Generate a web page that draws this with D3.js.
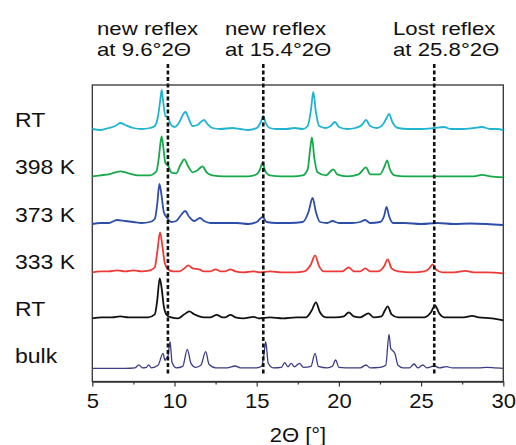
<!DOCTYPE html>
<html>
<head>
<meta charset="utf-8">
<script src="https://cdn.jsdelivr.net/npm/d3@7"></script>
<style>
    body { margin: 0; background: #fff; }
    text { font-family: "Liberation Sans", Arial, sans-serif; fill: #111; }
</style>
</head>
<body>
<div id="chart"></div>
<script>
// series names (top to bottom) and trace colours
const labels = ["RT", "398 K", "373 K", "333 K", "RT", "bulk"];
const colors = ["#1fb4d0", "#16a94a", "#2d4ea8", "#ee3a36", "#111111", "#3c3c86"];
// vertical stacking offset of each trace (intensity units)
const offsets = [251.5, 204.2, 157.5, 109.2, 63.2, 13.2];

// patterns as [2theta, intensity]
const rtTop = [[5.0,1],[5.5,0],[6.0,2],[6.4,4],[6.7,7],[7.0,5],[7.5,2],[8.0,1],[8.5,2],[8.8,4],[9.0,14],[9.15,32],[9.22,40],[9.3,30],[9.45,14],[9.6,13],[9.75,6],[10.0,3],[10.3,8],[10.5,15],[10.68,18],[10.85,12],[11.1,4],[11.4,5],[11.6,8],[11.8,10],[12.0,6],[12.3,2],[12.8,1],[13.5,2],[14.0,1],[14.5,0],[15.0,2],[15.25,8],[15.4,14],[15.55,7],[15.8,2],[16.2,1],[16.8,1],[17.3,2],[17.8,1],[18.1,4],[18.3,20],[18.44,38],[18.6,18],[18.8,4],[19.2,2],[19.5,4],[19.76,8],[20.0,3],[20.5,1],[21.0,2],[21.4,5],[21.65,10],[21.9,4],[22.3,2],[22.7,6],[22.9,12],[23.05,16],[23.25,8],[23.6,2],[24.2,1],[25.0,1],[25.8,2],[26.4,3],[26.8,1],[27.5,1],[28.2,2],[28.7,3],[29.2,1],[29.6,1],[30.0,0]];
const k398 = [[5.0,1],[5.5,2],[6.0,3],[6.7,6],[7.2,4],[7.8,2],[8.5,2],[8.9,6],[9.05,20],[9.15,35],[9.22,41],[9.32,30],[9.45,14],[9.6,12],[9.8,5],[10.1,4],[10.35,12],[10.6,18],[10.8,12],[11.1,5],[11.4,7],[11.7,11],[11.95,5],[12.3,2],[13.0,1],[13.8,1],[14.5,1],[15.0,3],[15.2,8],[15.36,15],[15.5,7],[15.8,2],[16.5,1],[17.2,1],[17.8,2],[18.1,8],[18.25,28],[18.36,40],[18.5,20],[18.7,5],[19.2,2],[19.66,8],[19.9,3],[20.5,1],[21.2,3],[21.65,10],[21.9,3],[22.5,3],[22.8,12],[22.93,17],[23.1,8],[23.4,2],[24.0,1],[25.0,1],[25.8,1],[26.5,1],[27.5,1],[28.2,1],[28.7,2.5],[29.2,1],[30.0,0]];
const k373 = [[5.0,0],[5.5,1],[6.0,1],[6.5,4],[7.0,3],[7.5,2],[8.0,1],[8.5,2],[8.8,5],[8.95,20],[9.08,40],[9.2,30],[9.35,12],[9.55,6],[9.8,2],[10.1,3],[10.4,9],[10.65,13],[10.9,7],[11.2,3],[11.55,6],[11.8,3],[12.2,1],[13.0,1],[13.8,1],[14.5,0],[15.0,2],[15.36,7],[15.6,2],[16.2,1],[17.0,1],[17.8,2],[18.15,12],[18.4,26],[18.6,12],[18.85,2],[19.3,1],[19.6,3],[20.0,1],[20.8,1],[21.3,2],[21.6,4],[21.9,1],[22.5,2],[22.75,8],[22.9,17],[23.05,8],[23.3,1],[24.0,1],[25.0,0],[26.0,1],[27.0,0],[28.0,0.5],[29.0,0],[30.0,-1]];
const k333 = [[5.0,0],[5.5,1],[6.0,1],[6.5,2],[7.0,1],[7.5,2],[8.0,1],[8.5,2],[8.8,5],[8.95,20],[9.12,40],[9.25,28],[9.4,10],[9.6,3],[9.9,1],[10.3,1],[10.6,4],[10.84,7],[11.1,4],[11.5,3],[11.8,1],[12.2,1],[12.5,3],[12.8,1],[13.1,1],[13.4,3],[13.7,1],[14.2,0],[14.8,1],[15.2,0],[15.8,1],[16.5,0],[17.3,0],[17.9,1],[18.3,8],[18.55,17],[18.8,6],[19.1,1],[19.6,1],[20.2,1],[20.6,5],[20.9,1],[21.3,1],[21.6,4],[21.9,1],[22.4,1],[22.75,6],[22.97,13],[23.2,4],[23.6,1],[24.5,0],[25.2,1],[25.5,4],[25.7,8],[25.9,3],[26.3,0],[27.0,0],[27.7,1.5],[28.2,0],[29.0,0],[30.0,-1]];
const rtLow = [[5.0,0],[5.6,1],[6.2,1],[6.7,2],[7.2,1],[7.8,1],[8.4,1],[8.8,4],[8.95,18],[9.1,40],[9.22,30],[9.35,12],[9.55,3],[9.8,1],[10.2,0],[10.6,4],[10.9,7],[11.2,4],[11.5,2],[11.8,1],[12.2,1],[12.57,3.5],[12.9,1],[13.1,1],[13.4,3.5],[13.7,1],[14.2,0],[14.8,1.5],[15.1,0],[15.8,1],[16.6,0],[17.4,1],[18.0,1],[18.35,8],[18.6,16],[18.85,6],[19.2,1],[19.8,1],[20.3,2],[20.6,6],[20.9,2],[21.3,1],[21.8,5],[22.1,1],[22.6,2],[22.8,8],[22.97,12],[23.2,4],[23.6,1],[24.5,1],[25.2,1],[25.6,6],[25.85,13],[26.1,5],[26.4,1],[27.0,1],[27.6,1],[28.1,2.5],[28.5,1],[29.3,0],[30.0,-2]];
const bulk = [[5.0,0],[6.0,0],[7.0,0],[7.6,0.5],[7.84,3.5],[8.05,0.5],[8.3,1],[8.42,3.5],[8.6,0.5],[9.0,3],[9.3,15],[9.42,8],[9.5,10],[9.6,12],[9.73,26.6],[9.85,6],[10.1,0.5],[10.5,2],[10.78,19],[11.0,5],[11.3,1],[11.6,3],[11.9,16.6],[12.1,4],[12.5,0.5],[13.2,0.5],[13.7,2.3],[14.0,0.5],[15.0,0.5],[15.3,2],[15.45,15],[15.55,26.6],[15.7,5],[16.0,0.5],[16.5,1],[16.7,5.6],[16.9,1.5],[17.1,5],[17.3,1.5],[17.6,5],[17.85,1],[18.3,2],[18.55,15],[18.75,2],[19.3,0.5],[19.6,2],[19.8,8.3],[20.0,1],[20.8,0.5],[21.3,0.5],[21.65,3.3],[21.9,0.5],[22.5,1],[22.85,3],[23.05,34],[23.15,20],[23.25,18],[23.4,15],[23.6,3],[23.9,0.5],[24.3,0.5],[24.57,4.3],[24.8,0.5],[25.1,3.3],[25.35,0.5],[25.8,2.3],[26.1,0.5],[26.55,1.6],[26.9,0.5],[27.5,0.5],[28.5,0.5],[29.0,1],[29.5,0.5],[30.0,0]];
const patterns = [rtTop, k398, k373, k333, rtLow, bulk];

// marked reflexes and their notes
const reflexes = [9.6, 15.4, 25.8];
const notes = [["new reflex", "at 9.6°2Θ"], ["new reflex", "at 15.4°2Θ"], ["Lost reflex", "at 25.8°2Θ"]];
const majorTicks = [5, 10, 15, 20, 25, 30];
const minorTicks = [7.5, 12.5, 17.5, 22.5, 27.5];

const width = 516, height = 445;
const plotLeft = 92.3, plotRight = 503.3, plotTop = 85, plotBottom = 381.5;

const svg = d3.select("#chart").append("svg")
    .attr("width", width)
    .attr("height", height);

const x = d3.scaleLinear().domain([5, 30]).range([plotLeft, plotRight]);
const y = d3.scaleLinear().domain([0, plotBottom - plotTop]).range([plotBottom, plotTop]);

// frame
svg.append("rect")
    .attr("x", plotLeft).attr("y", plotTop)
    .attr("width", plotRight - plotLeft).attr("height", plotBottom - plotTop)
    .attr("fill", "none")
    .attr("stroke", "#333")
    .attr("stroke-width", 1.3);

// traces
patterns.forEach((pts, i) => {
    const line = d3.line()
        .x(d => x(d[0]))
        .y(d => y(d[1] + offsets[i]))
        .curve(d3.curveMonotoneX);
    svg.append("path")
        .datum(pts)
        .attr("d", line)
        .attr("fill", "none")
        .attr("stroke", colors[i])
        .attr("stroke-width", i === 5 ? 1.3 : 1.8)
        .attr("stroke-linejoin", "round");
});

// dashed markers
svg.selectAll(".reflex")
    .data(reflexes)
    .enter()
    .append("line")
    .attr("class", "reflex")
    .attr("x1", d => x(d)).attr("x2", d => x(d))
    .attr("y1", 64).attr("y2", 374)
    .attr("stroke", "#111")
    .attr("stroke-width", 2.6)
    .attr("stroke-dasharray", "4 2.5");

// notes above (two lines each)
const noteX = [97, 225, 393];
notes.forEach((lines, i) => {
    lines.forEach((t, j) => {
        svg.append("text")
            .attr("transform", `translate(${noteX[i]},${34.5 + j * 21}) scale(1.22,1)`)
            .attr("font-size", 18.2)
            .text(t);
    });
});

// series labels
const labelY = [127.3, 174, 221.5, 269, 316, 363.3];
svg.selectAll(".lbl")
    .data(labels)
    .enter()
    .append("text")
    .attr("class", "lbl")
    .attr("transform", (d, i) => `translate(15,${labelY[i]}) scale(1.15,1)`)
    .attr("font-size", 20)
    .text(d => d);

// axis
const axis = svg.append("g").attr("transform", `translate(0,${plotBottom})`);
axis.call(d3.axisBottom(x).tickValues(majorTicks).tickSize(5).tickSizeOuter(0).tickPadding(7));
axis.select(".domain").attr("stroke", "#333").attr("stroke-width", 1.3);
axis.selectAll(".tick line").attr("stroke", "#333").attr("stroke-width", 1.2);
axis.selectAll(".tick text")
    .attr("font-family", "Liberation Sans, Arial, sans-serif")
    .attr("font-size", 20)
    .attr("fill", "#111")
    .attr("transform", "scale(1.1,1)");

const minor = svg.append("g").attr("transform", `translate(0,${plotBottom})`);
minor.call(d3.axisBottom(x).tickValues(minorTicks).tickSize(3).tickFormat(""));
minor.select(".domain").remove();
minor.selectAll(".tick line").attr("stroke", "#333").attr("stroke-width", 1.2);

// axis title
svg.append("text")
    .attr("transform", `translate(298,441.5) scale(1.1,1)`)
    .attr("text-anchor", "middle")
    .attr("font-size", 20)
    .text("2Θ [°]");
</script>
</body>
</html>
